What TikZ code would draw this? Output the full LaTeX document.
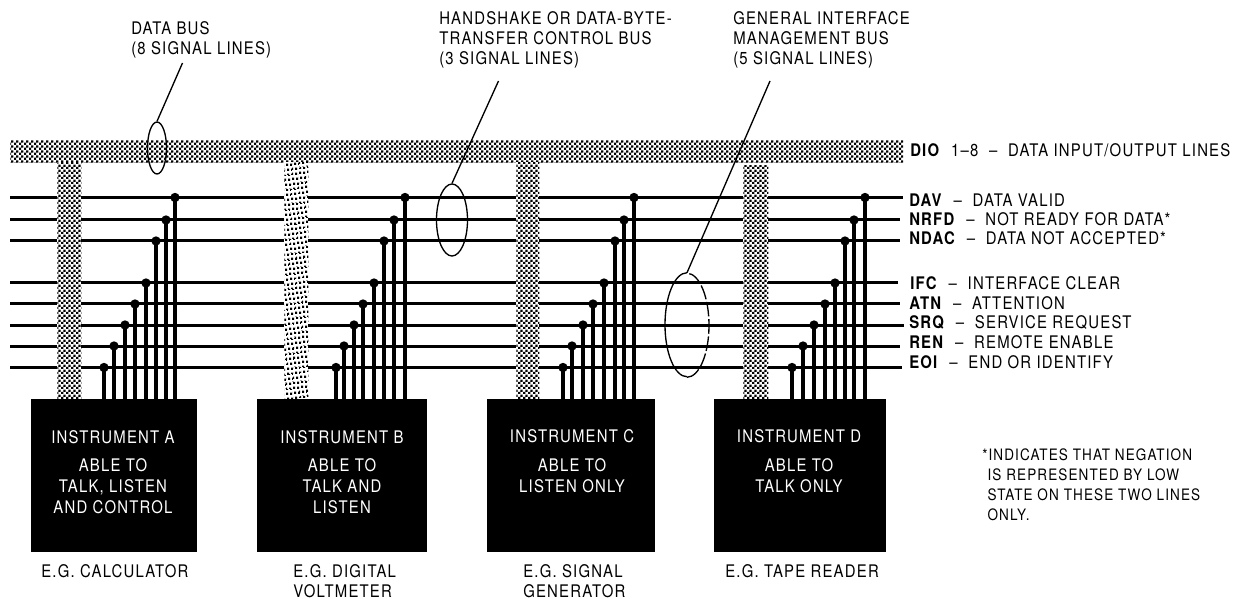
\documentclass[tikz,border=0pt]{standalone}
\usepackage{fontspec}
\setmainfont{TeX Gyre Heros}[FakeStretch=0.86,LetterSpace=7]
\usetikzlibrary{patterns,patterns.meta,shapes.geometric}
\pgfdeclarepattern{name=chk,type=uncolored,bottom left=\pgfqpoint{0pt}{0pt},top right=\pgfqpoint{3.5pt}{3.5pt},tile size=\pgfqpoint{3.5pt}{3.5pt},
 code={\pgfpathrectangle{\pgfqpoint{0pt}{0pt}}{\pgfqpoint{1.75pt}{1.75pt}}\pgfpathrectangle{\pgfqpoint{1.75pt}{1.75pt}}{\pgfqpoint{1.75pt}{1.75pt}}\pgfusepath{fill}}}
\pgfdeclarepattern{name=slant,type=uncolored,bottom left=\pgfqpoint{0pt}{0pt},top right=\pgfqpoint{3pt}{3pt},tile size=\pgfqpoint{3pt}{3pt},tile transformation=\pgftransformrotate{8},
 code={\pgfpathrectangle{\pgfqpoint{0pt}{0pt}}{\pgfqpoint{1.7pt}{1.7pt}}\pgfusepath{fill}}}
\newcommand{\sepx}{\hspace{0.62em}}
\tikzset{
 txt/.style={inner sep=0pt,font=\fontsize{13}{15}\selectfont,align=left,text=black},
 wire/.style={line width=2.25pt,black},
 tapline/.style={line width=2.4pt,black},
 tapdot/.style={circle,fill=black,inner sep=0pt,minimum size=7pt},
 stub/.style={rectangle,inner sep=0pt,preaction={fill=white},pattern=chk,pattern color=black},
 box/.style={rectangle,fill=black,inner sep=0pt},
 boxtxt/.style={inner sep=0pt,text=white,align=center,font=\fontsize{13}{15.5}\selectfont},
 ring/.style={ellipse,draw=black,line width=1pt,inner sep=0pt},
 lead/.style={line width=1pt,black}
}
\begin{document}
\begin{tikzpicture}[x=0.75pt,y=-0.75pt]
\useasboundingbox (0,0) rectangle (1247,599);
% bus lines
\foreach \n/\y/\r in {1/197.5/903,2/220/900,3/241/900,4/283/898,5/304/900,6/325/904,7/346/900,8/367.5/902}{
  \coordinate (L\n) at (10,\y);
  \coordinate (R\n) at (\r,\y);
  \draw[wire] (L\n) -- (R\n);
}
% data bus and stubs
\node[stub,minimum width=669.75pt,minimum height=16.5pt,anchor=north west] (bus) at (10,140) {};
\node[stub,minimum width=18pt,minimum height=177pt,anchor=north west] (stubA) at (57,162) {};
\node[stub,pattern=slant,minimum width=18pt,minimum height=177pt,anchor=north west] (stubB) at (284,162) {};
\node[stub,minimum width=17.25pt,minimum height=177pt,anchor=north west] (stubC) at (516,162) {};
\node[stub,minimum width=18.75pt,minimum height=174.75pt,anchor=north west] (stubD) at (743,165) {};
% instruments
\node[box,minimum width=124.5pt,minimum height=114.75pt,anchor=north west] (A) at (31,399) {};
\node[box,minimum width=127.5pt,minimum height=114.75pt,anchor=north west] (B) at (257,399) {};
\node[box,minimum width=126pt,minimum height=114.75pt,anchor=north west] (C) at (487,399) {};
\node[box,minimum width=129pt,minimum height=114.75pt,anchor=north west] (D) at (714,399) {};
% taps
\foreach \b/\xa/\xb/\xc/\xd/\xe/\xf/\xg/\xh in {A/104/114/125/135/146/156/166/175,B/336/344/354/363/374/384/394/405,C/563/572/583/593/604/615/624/634,D/792/803/814/825/835/845/854/865}{
  \foreach \k/\x/\y in {1/\xa/367.5,2/\xb/346,3/\xc/325,4/\xd/304,5/\xe/283,6/\xf/241,7/\xg/220,8/\xh/197.5}{
    \node[tapdot] (\b\k) at (\x,\y) {};
    \draw[tapline] (\b\k.center) -- (\b\k |- \b.north);
  }
}
% ellipses and leaders
\coordinate (dataTop) at (182.5,63);
\coordinate (hsTop) at (498.5,81);
\coordinate (gimTop) at (770,81);
\node[ring,minimum width=14.25pt,minimum height=39pt] (ringData) at (157,148) {};
\draw[lead] (ringData.north) -- (dataTop);
\node[ring,minimum width=23.25pt,minimum height=54pt] (ringHs) at (452,220) {};
\draw[lead] (ringHs.north) -- (hsTop);
\node[ellipse,inner sep=0pt,minimum width=33pt,minimum height=78pt] (ringGim) at (687,325) {};
\draw[lead] (ringGim.north) arc[start angle=-90,end angle=-270,x radius=22,y radius=52];
\draw[lead,dash pattern=on 11pt off 2pt] (ringGim.south) arc[start angle=90,end angle=-90,x radius=22,y radius=52];
\draw[lead] (ringGim.north) -- (gimTop);
% instrument texts
\node[boxtxt,anchor=north] (tA) at (113,430) {INSTRUMENT A\\[6pt]ABLE TO\\TALK, LISTEN\\AND CONTROL};
\node[boxtxt,anchor=north] (tB) at (342,430) {INSTRUMENT B\\[6pt]ABLE TO\\TALK AND\\LISTEN};
\node[boxtxt,anchor=north] (tC) at (572,429.5) {INSTRUMENT C\\[6pt]ABLE TO\\LISTEN ONLY};
\node[boxtxt,anchor=north] (tD) at (799,429.5) {INSTRUMENT D\\[6pt]ABLE TO\\TALK ONLY};
% top labels
\node[txt,anchor=north west] (lData) at (131,21) {DATA BUS\\(8 SIGNAL LINES)};
\node[txt,anchor=north west] (lHs) at (439,11) {HANDSHAKE OR DATA-BYTE-\\TRANSFER CONTROL BUS\\(3 SIGNAL LINES)};
\node[txt,anchor=north west] (lGim) at (733,11) {GENERAL INTERFACE\\MANAGEMENT BUS\\(5 SIGNAL LINES)};
% right labels
\node[txt,anchor=west] (nDio) at (910,150) {\textbf{DIO}\sepx 1--8\sepx--\sepx DATA INPUT/OUTPUT LINES};
\node[txt,anchor=west] (nDav) at (909,200) {\textbf{DAV}\sepx--\sepx DATA VALID};
\node[txt,anchor=west] (nNrfd) at (909,219) {\textbf{NRFD}\sepx--\sepx NOT READY FOR DATA*};
\node[txt,anchor=west] (nNdac) at (909,238) {\textbf{NDAC}\sepx--\sepx DATA NOT ACCEPTED*};
\node[txt,anchor=west] (nIfc) at (910,283) {\textbf{IFC}\sepx--\sepx INTERFACE CLEAR};
\node[txt,anchor=west] (nAtn) at (909,303) {\textbf{ATN}\sepx--\sepx ATTENTION};
\node[txt,anchor=west] (nSrq) at (909,322) {\textbf{SRQ}\sepx--\sepx SERVICE REQUEST};
\node[txt,anchor=west] (nRen) at (909,342) {\textbf{REN}\sepx--\sepx REMOTE ENABLE};
\node[txt,anchor=west] (nEoi) at (909,362) {\textbf{EOI}\sepx--\sepx END OR IDENTIFY};
% bottom labels
\node[txt,anchor=north west] (eA) at (41,564) {E.G. CALCULATOR};
\node[txt,anchor=north west] (eB) at (293,564) {E.G. DIGITAL\\VOLTMETER};
\node[txt,anchor=north west] (eC) at (523,564) {E.G. SIGNAL\\GENERATOR};
\node[txt,anchor=north west] (eD) at (725,564) {E.G. TAPE READER};
% note
\node[txt,anchor=north west,font=\fontsize{11.8}{15}\selectfont] (note) at (982,448) {*INDICATES THAT NEGATION\\\hspace*{4pt}IS REPRESENTED BY LOW\\\hspace*{4pt}STATE ON THESE TWO LINES\\\hspace*{4pt}ONLY.};
\end{tikzpicture}
\end{document}
